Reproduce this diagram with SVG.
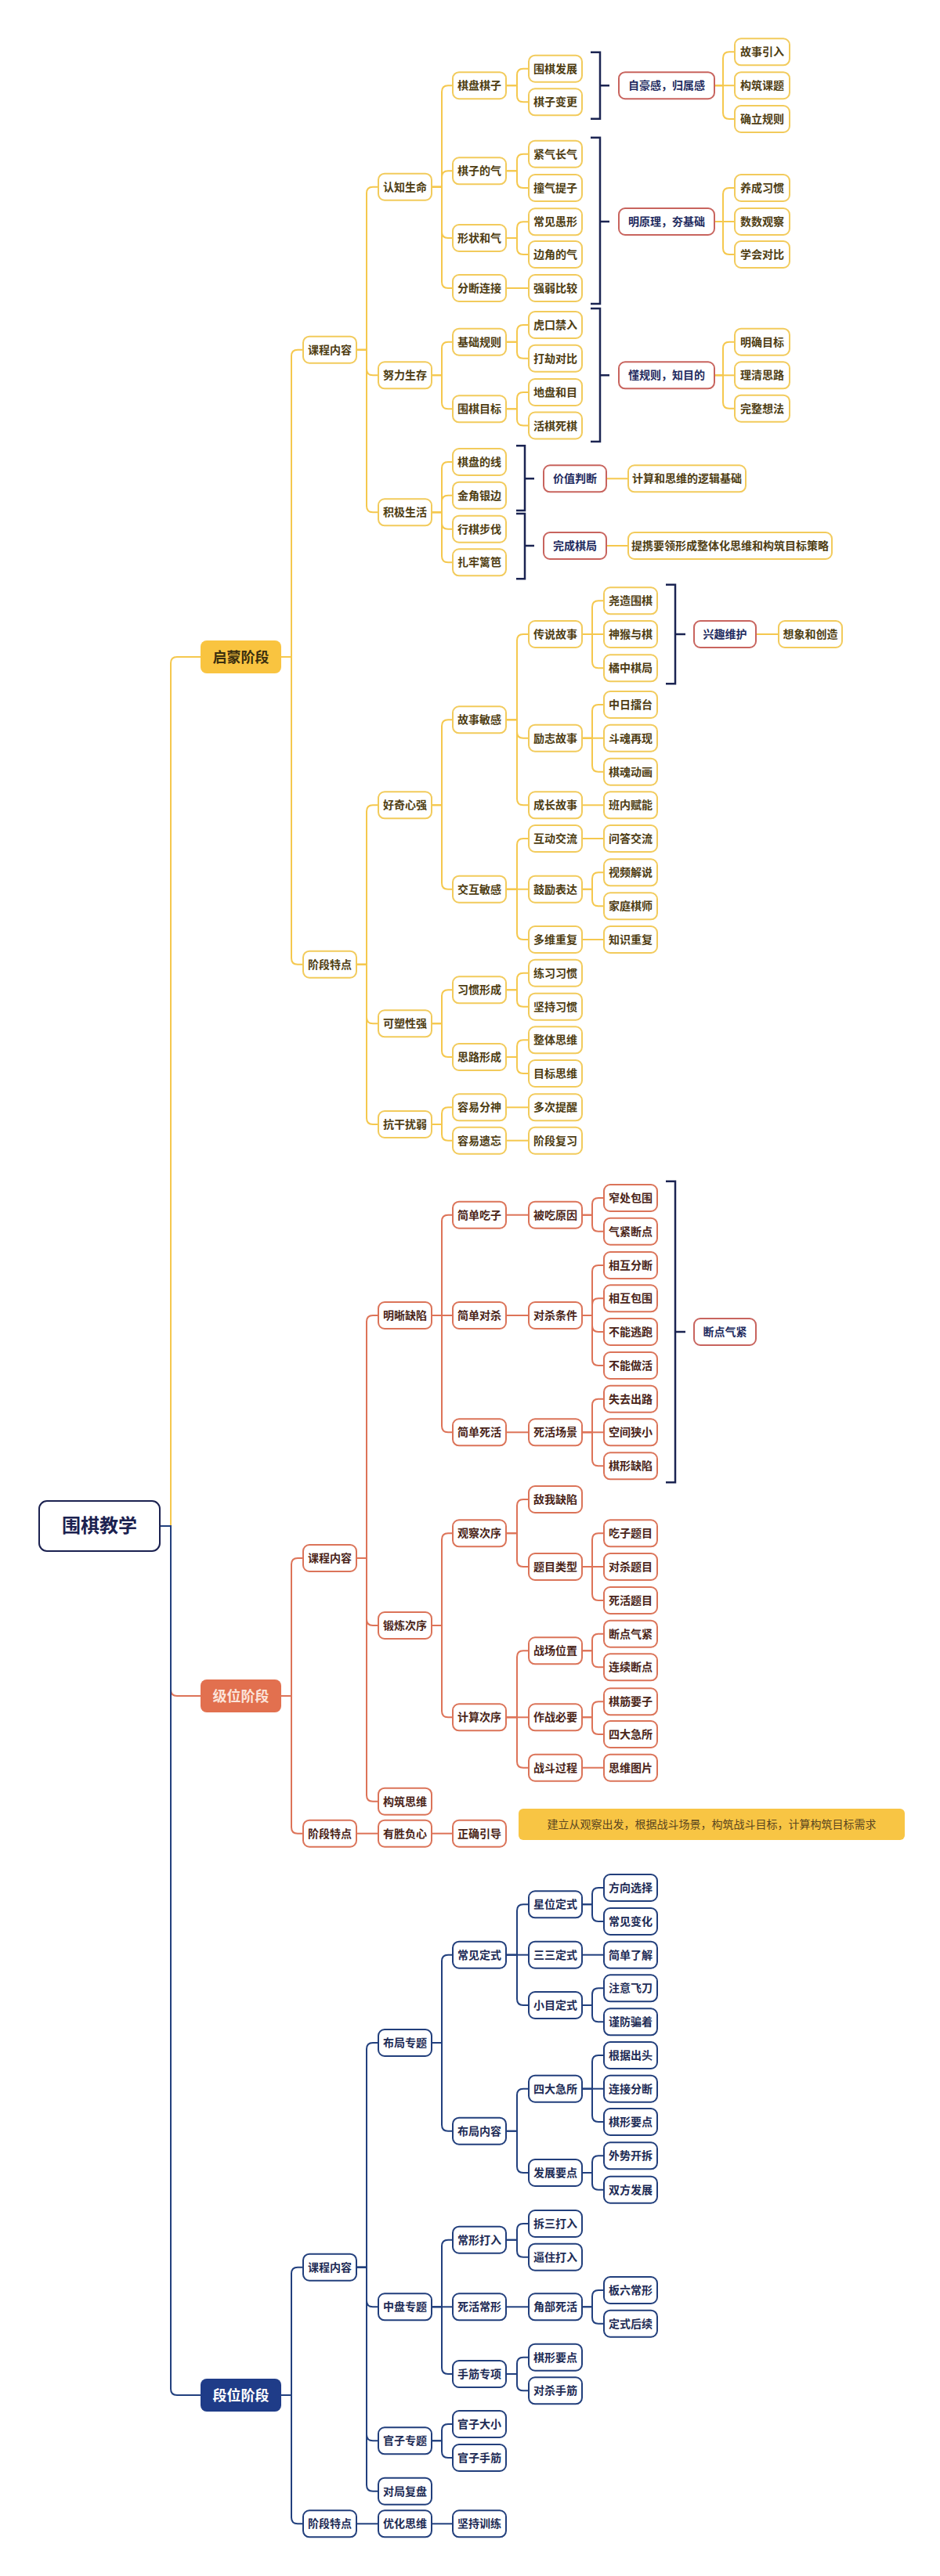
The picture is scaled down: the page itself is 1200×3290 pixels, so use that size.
<svg xmlns="http://www.w3.org/2000/svg" width="1200" height="3290" viewBox="0 0 1200 3290">
<style>
text{font-family:"Noto Sans CJK SC","Noto Sans",sans-serif;font-size:14px;font-weight:bold;text-anchor:middle}
rect{stroke-width:2}
.ny rect{fill:#fff;stroke:#F2CB5C}
.ny text{fill:#4E3D12}
.nc rect{fill:#fff;stroke:#DB7459}
.nc text{fill:#4A2418}
.nn rect{fill:#fff;stroke:#223F7C}
.nn text{fill:#1D2B55}
.sm rect{fill:#fff;stroke:#C8645E}
.sm text{fill:#1E2A5E}
path{fill:none;stroke-width:2}
.ly{stroke:#F5C84E}
.lc{stroke:#DD7358}
.ln{stroke:#22407E}
.br{stroke:#1B2452;stroke-width:2.5}
</style>
<rect x="0" y="0" width="1200" height="3290" fill="#fff" stroke="none"/>
<g id="connectors">
<g class="ly">
<path class="ly" d="M204 1949H218V847Q218 839 226 839H256"/>
<path class="ly" d="M359 839H372V454.7Q372 446.7 380 446.7H387"/>
<path class="ly" d="M359 839H372V1223.7Q372 1231.7 380 1231.7H387"/>
<path class="ly" d="M455 446.7H468V246.7Q468 238.7 476 238.7H483"/>
<path class="ly" d="M455 446.7H468V471.3Q468 479.3 476 479.3H483"/>
<path class="ly" d="M455 446.7H468V646.3Q468 654.3 476 654.3H483"/>
<path class="ly" d="M455 1231.7H468V1036.3Q468 1028.3 476 1028.3H483"/>
<path class="ly" d="M455 1231.7H468V1299.3Q468 1307.3 476 1307.3H483"/>
<path class="ly" d="M455 1231.7H468V1428Q468 1436 476 1436H483"/>
<path class="ly" d="M551 238.7H564V117.2Q564 109.2 572 109.2H578"/>
<path class="ly" d="M551 238.7H564V226.3Q564 218.3 572 218.3H578"/>
<path class="ly" d="M551 238.7H564V296Q564 304 572 304H578"/>
<path class="ly" d="M551 238.7H564V360Q564 368 572 368H578"/>
<path class="ly" d="M551 479.3H564V444.7Q564 436.7 572 436.7H578"/>
<path class="ly" d="M551 479.3H564V514.3Q564 522.3 572 522.3H578"/>
<path class="ly" d="M551 654.3H564V598Q564 590 572 590H578"/>
<path class="ly" d="M551 654.3H564V640.7Q564 632.7 572 632.7H578"/>
<path class="ly" d="M551 654.3H564V667.7Q564 675.7 572 675.7H578"/>
<path class="ly" d="M551 654.3H564V710.3Q564 718.3 572 718.3H578"/>
<path class="ly" d="M551 1028.3H564V927.3Q564 919.3 572 919.3H578"/>
<path class="ly" d="M551 1028.3H564V1127.7Q564 1135.7 572 1135.7H578"/>
<path class="ly" d="M551 1307.3H564V1272.3Q564 1264.3 572 1264.3H578"/>
<path class="ly" d="M551 1307.3H564V1342Q564 1350 572 1350H578"/>
<path class="ly" d="M551 1436H564V1422.3Q564 1414.3 572 1414.3H578"/>
<path class="ly" d="M551 1436H564V1448.7Q564 1456.7 572 1456.7H578"/>
<path class="ly" d="M646 109.2H660V95.7Q660 87.7 668 87.7H675"/>
<path class="ly" d="M646 109.2H660V122.3Q660 130.3 668 130.3H675"/>
<path class="ly" d="M646 218.3H660V204.7Q660 196.7 668 196.7H675"/>
<path class="ly" d="M646 218.3H660V232Q660 240 668 240H675"/>
<path class="ly" d="M646 304H660V291.3Q660 283.3 668 283.3H675"/>
<path class="ly" d="M646 304H660V317Q660 325 668 325H675"/>
<path class="ly" d="M646 368H675"/>
<path class="ly" d="M646 436.7H660V423Q660 415 668 415H675"/>
<path class="ly" d="M646 436.7H660V449.7Q660 457.7 668 457.7H675"/>
<path class="ly" d="M646 522.3H660V509Q660 501 668 501H675"/>
<path class="ly" d="M646 522.3H660V535.5Q660 543.5 668 543.5H675"/>
<path class="ly" d="M646 919.3H660V818Q660 810 668 810H675"/>
<path class="ly" d="M646 919.3H660V934.7Q660 942.7 668 942.7H675"/>
<path class="ly" d="M646 919.3H660V1020.3Q660 1028.3 668 1028.3H675"/>
<path class="ly" d="M646 1135.7H660V1079Q660 1071 668 1071H675"/>
<path class="ly" d="M646 1135.7H675"/>
<path class="ly" d="M646 1135.7H660V1192Q660 1200 668 1200H675"/>
<path class="ly" d="M646 1264.3H660V1250.7Q660 1242.7 668 1242.7H675"/>
<path class="ly" d="M646 1264.3H660V1277.7Q660 1285.7 668 1285.7H675"/>
<path class="ly" d="M646 1350H660V1336.3Q660 1328.3 668 1328.3H675"/>
<path class="ly" d="M646 1350H660V1363Q660 1371 668 1371H675"/>
<path class="ly" d="M646 1414.3H675"/>
<path class="ly" d="M646 1456.7H675"/>
<path class="ly" d="M743 810H756V775.3Q756 767.3 764 767.3H771"/>
<path class="ly" d="M743 810H771"/>
<path class="ly" d="M743 810H756V845.3Q756 853.3 764 853.3H771"/>
<path class="ly" d="M743 942.7H756V908Q756 900 764 900H771"/>
<path class="ly" d="M743 942.7H771"/>
<path class="ly" d="M743 942.7H756V977.7Q756 985.7 764 985.7H771"/>
<path class="ly" d="M743 1028.3H771"/>
<path class="ly" d="M743 1071H771"/>
<path class="ly" d="M743 1135.7H756V1122.3Q756 1114.3 764 1114.3H771"/>
<path class="ly" d="M743 1135.7H756V1149.3Q756 1157.3 764 1157.3H771"/>
<path class="ly" d="M743 1200H771"/>
<path class="ly" d="M912 109.2H923V74.3Q923 66.3 931 66.3H938"/>
<path class="ly" d="M912 109.2H938"/>
<path class="ly" d="M912 109.2H923V144Q923 152 931 152H938"/>
<path class="ly" d="M912 283H923V248Q923 240 931 240H938"/>
<path class="ly" d="M912 283H938"/>
<path class="ly" d="M912 283H923V317Q923 325 931 325H938"/>
<path class="ly" d="M912 479.3H923V444.7Q923 436.7 931 436.7H938"/>
<path class="ly" d="M912 479.3H938"/>
<path class="ly" d="M912 479.3H923V513.7Q923 521.7 931 521.7H938"/>
<path class="ly" d="M774 611.3H802"/>
<path class="ly" d="M774 697H802"/>
<path class="ly" d="M965 810H994"/>
</g>
<g class="lc">
<path class="lc" d="M204 1949H218V2158Q218 2166 226 2166H256"/>
<path class="lc" d="M359 2166H372V1998Q372 1990 380 1990H387"/>
<path class="lc" d="M359 2166H372V2333.7Q372 2341.7 380 2341.7H387"/>
<path class="lc" d="M455 1990H468V1688Q468 1680 476 1680H483"/>
<path class="lc" d="M455 1990H468V2068Q468 2076 476 2076H483"/>
<path class="lc" d="M455 1990H468V2292.7Q468 2300.7 476 2300.7H483"/>
<path class="lc" d="M455 2341.7H483"/>
<path class="lc" d="M551 1680H564V1559.7Q564 1551.7 572 1551.7H578"/>
<path class="lc" d="M551 1680H578"/>
<path class="lc" d="M551 1680H564V1821.3Q564 1829.3 572 1829.3H578"/>
<path class="lc" d="M551 2076H564V1966.3Q564 1958.3 572 1958.3H578"/>
<path class="lc" d="M551 2076H564V2185.3Q564 2193.3 572 2193.3H578"/>
<path class="lc" d="M551 2341.7H578"/>
<path class="lc" d="M646 1551.7H675"/>
<path class="lc" d="M646 1680H675"/>
<path class="lc" d="M646 1829.3H675"/>
<path class="lc" d="M646 1958.3H660V1923Q660 1915 668 1915H675"/>
<path class="lc" d="M646 1958.3H660V1993Q660 2001 668 2001H675"/>
<path class="lc" d="M646 2193.3H660V2116.3Q660 2108.3 668 2108.3H675"/>
<path class="lc" d="M646 2193.3H675"/>
<path class="lc" d="M646 2193.3H660V2249.7Q660 2257.7 668 2257.7H675"/>
<path class="lc" d="M743 1551.7H756V1538Q756 1530 764 1530H771"/>
<path class="lc" d="M743 1551.7H756V1564.7Q756 1572.7 764 1572.7H771"/>
<path class="lc" d="M743 1680H756V1624Q756 1616 764 1616H771"/>
<path class="lc" d="M743 1680H756V1666.3Q756 1658.3 764 1658.3H771"/>
<path class="lc" d="M743 1680H756V1693Q756 1701 764 1701H771"/>
<path class="lc" d="M743 1680H756V1736Q756 1744 764 1744H771"/>
<path class="lc" d="M743 1829.3H756V1794.7Q756 1786.7 764 1786.7H771"/>
<path class="lc" d="M743 1829.3H771"/>
<path class="lc" d="M743 1829.3H756V1864.3Q756 1872.3 764 1872.3H771"/>
<path class="lc" d="M743 2001H756V1966.3Q756 1958.3 764 1958.3H771"/>
<path class="lc" d="M743 2001H771"/>
<path class="lc" d="M743 2001H756V2036Q756 2044 764 2044H771"/>
<path class="lc" d="M743 2108.3H756V2094.7Q756 2086.7 764 2086.7H771"/>
<path class="lc" d="M743 2108.3H756V2121.3Q756 2129.3 764 2129.3H771"/>
<path class="lc" d="M743 2193.3H756V2181.3Q756 2173.3 764 2173.3H771"/>
<path class="lc" d="M743 2193.3H756V2207Q756 2215 764 2215H771"/>
<path class="lc" d="M743 2257.7H771"/>
</g>
<g class="ln">
<path class="ln" d="M204 1949H218V3051Q218 3059 226 3059H256"/>
<path class="ln" d="M359 3059H372V2903.7Q372 2895.7 380 2895.7H387"/>
<path class="ln" d="M359 3059H372V3215.3Q372 3223.3 380 3223.3H387"/>
<path class="ln" d="M455 2895.7H468V2617Q468 2609 476 2609H483"/>
<path class="ln" d="M455 2895.7H468V2938.3Q468 2946.3 476 2946.3H483"/>
<path class="ln" d="M455 2895.7H468V3109.3Q468 3117.3 476 3117.3H483"/>
<path class="ln" d="M455 2895.7H468V3173.7Q468 3181.7 476 3181.7H483"/>
<path class="ln" d="M455 3223.3H483"/>
<path class="ln" d="M551 2609H564V2504.7Q564 2496.7 572 2496.7H578"/>
<path class="ln" d="M551 2609H564V2713.7Q564 2721.7 572 2721.7H578"/>
<path class="ln" d="M551 2946.3H564V2868.7Q564 2860.7 572 2860.7H578"/>
<path class="ln" d="M551 2946.3H578"/>
<path class="ln" d="M551 2946.3H564V3024Q564 3032 572 3032H578"/>
<path class="ln" d="M551 3117.3H564V3104Q564 3096 572 3096H578"/>
<path class="ln" d="M551 3117.3H564V3131Q564 3139 572 3139H578"/>
<path class="ln" d="M551 3223.3H578"/>
<path class="ln" d="M646 2496.7H660V2440.3Q660 2432.3 668 2432.3H675"/>
<path class="ln" d="M646 2496.7H675"/>
<path class="ln" d="M646 2496.7H660V2553Q660 2561 668 2561H675"/>
<path class="ln" d="M646 2721.7H660V2675.7Q660 2667.7 668 2667.7H675"/>
<path class="ln" d="M646 2721.7H660V2767Q660 2775 668 2775H675"/>
<path class="ln" d="M646 2860.7H660V2848Q660 2840 668 2840H675"/>
<path class="ln" d="M646 2860.7H660V2874.7Q660 2882.7 668 2882.7H675"/>
<path class="ln" d="M646 2946.3H675"/>
<path class="ln" d="M646 3032H660V3018.7Q660 3010.7 668 3010.7H675"/>
<path class="ln" d="M646 3032H660V3045.3Q660 3053.3 668 3053.3H675"/>
<path class="ln" d="M743 2432.3H756V2419Q756 2411 764 2411H771"/>
<path class="ln" d="M743 2432.3H756V2446Q756 2454 764 2454H771"/>
<path class="ln" d="M743 2496.7H771"/>
<path class="ln" d="M743 2561H756V2547.3Q756 2539.3 764 2539.3H771"/>
<path class="ln" d="M743 2561H756V2574.3Q756 2582.3 764 2582.3H771"/>
<path class="ln" d="M743 2667.7H756V2633Q756 2625 764 2625H771"/>
<path class="ln" d="M743 2667.7H771"/>
<path class="ln" d="M743 2667.7H756V2702Q756 2710 764 2710H771"/>
<path class="ln" d="M743 2775H756V2761.3Q756 2753.3 764 2753.3H771"/>
<path class="ln" d="M743 2775H756V2788.7Q756 2796.7 764 2796.7H771"/>
<path class="ln" d="M743 2946.3H756V2933Q756 2925 764 2925H771"/>
<path class="ln" d="M743 2946.3H756V2959.7Q756 2967.7 764 2967.7H771"/>
</g>
<g class="br">
<path class="br" d="M754 66.7H766V151.7H754M766 109.2H778"/>
<path class="br" d="M754 175.7H766V388H754M766 283H778"/>
<path class="br" d="M754 394H766V564H754M766 479.3H778"/>
<path class="br" d="M659 569.3H670V652H659M670 611.3H682"/>
<path class="br" d="M659 656H670V739.3H659M670 697H682"/>
<path class="br" d="M850 746.7H862V873.3H850M862 810H875"/>
<path class="br" d="M850 1508.7H862V1893.3H850M862 1701H875"/>
</g>
</g>

<g id="root"><rect x="50" y="1917" width="154" height="64" rx="10" fill="#fff" stroke="#1B2150" stroke-width="3"/><text x="127" y="1957" style="font-size:24px;fill:#1B2150">围棋教学</text></g>

<g id="stage-qimeng"><rect x="256" y="818" width="103" height="42" rx="8" fill="#F9C440" stroke="none"/><text x="307.5" y="845.5" style="font-size:18px;fill:#3B2F0F">启蒙阶段</text></g>
<g id="stage-jiwei"><rect x="256" y="2145" width="103" height="42" rx="8" fill="#E2704F" stroke="none"/><text x="307.5" y="2172.5" style="font-size:18px;fill:#FBE3D9">级位阶段</text></g>
<g id="stage-duanwei"><rect x="256" y="3038" width="103" height="42" rx="8" fill="#1F3C88" stroke="none"/><text x="307.5" y="3065.5" style="font-size:18px;fill:#fff">段位阶段</text></g>

<g id="y-l2a" class="ny"><rect x="387" y="429.7" width="68" height="34" rx="8"/><text x="421" y="451.7">课程内容</text></g>
<g id="y-l2b" class="ny"><rect x="387" y="1214.7" width="68" height="34" rx="8"/><text x="421" y="1236.7">阶段特点</text></g>
<g id="y-l3a" class="ny"><rect x="483" y="221.7" width="68" height="34" rx="8"/><text x="517" y="243.7">认知生命</text></g>
<g id="y-l3b" class="ny"><rect x="483" y="462.3" width="68" height="34" rx="8"/><text x="517" y="484.3">努力生存</text></g>
<g id="y-l3c" class="ny"><rect x="483" y="637.3" width="68" height="34" rx="8"/><text x="517" y="659.3">积极生活</text></g>
<g id="y-l3d" class="ny"><rect x="483" y="1011.3" width="68" height="34" rx="8"/><text x="517" y="1033.3">好奇心强</text></g>
<g id="y-l3e" class="ny"><rect x="483" y="1290.3" width="68" height="34" rx="8"/><text x="517" y="1312.3">可塑性强</text></g>
<g id="y-l3f" class="ny"><rect x="483" y="1419" width="68" height="34" rx="8"/><text x="517" y="1441">抗干扰弱</text></g>
<g id="y-l4a" class="ny"><rect x="578" y="92.2" width="68" height="34" rx="8"/><text x="612" y="114.2">棋盘棋子</text></g>
<g id="y-l4b" class="ny"><rect x="578" y="201.3" width="68" height="34" rx="8"/><text x="612" y="223.3">棋子的气</text></g>
<g id="y-l4c" class="ny"><rect x="578" y="287" width="68" height="34" rx="8"/><text x="612" y="309">形状和气</text></g>
<g id="y-l4d" class="ny"><rect x="578" y="351" width="68" height="34" rx="8"/><text x="612" y="373">分断连接</text></g>
<g id="y-l4e" class="ny"><rect x="578" y="419.7" width="68" height="34" rx="8"/><text x="612" y="441.7">基础规则</text></g>
<g id="y-l4f" class="ny"><rect x="578" y="505.3" width="68" height="34" rx="8"/><text x="612" y="527.3">围棋目标</text></g>
<g id="y-l4g" class="ny"><rect x="578" y="573" width="68" height="34" rx="8"/><text x="612" y="595">棋盘的线</text></g>
<g id="y-l4h" class="ny"><rect x="578" y="615.7" width="68" height="34" rx="8"/><text x="612" y="637.7">金角银边</text></g>
<g id="y-l4i" class="ny"><rect x="578" y="658.7" width="68" height="34" rx="8"/><text x="612" y="680.7">行棋步伐</text></g>
<g id="y-l4j" class="ny"><rect x="578" y="701.3" width="68" height="34" rx="8"/><text x="612" y="723.3">扎牢篱笆</text></g>
<g id="y-l4k" class="ny"><rect x="578" y="902.3" width="68" height="34" rx="8"/><text x="612" y="924.3">故事敏感</text></g>
<g id="y-l4l" class="ny"><rect x="578" y="1118.7" width="68" height="34" rx="8"/><text x="612" y="1140.7">交互敏感</text></g>
<g id="y-l4m" class="ny"><rect x="578" y="1247.3" width="68" height="34" rx="8"/><text x="612" y="1269.3">习惯形成</text></g>
<g id="y-l4n" class="ny"><rect x="578" y="1333" width="68" height="34" rx="8"/><text x="612" y="1355">思路形成</text></g>
<g id="y-l4o" class="ny"><rect x="578" y="1397.3" width="68" height="34" rx="8"/><text x="612" y="1419.3">容易分神</text></g>
<g id="y-l4p" class="ny"><rect x="578" y="1439.7" width="68" height="34" rx="8"/><text x="612" y="1461.7">容易遗忘</text></g>
<g id="y-l5a" class="ny"><rect x="675" y="70.7" width="68" height="34" rx="8"/><text x="709" y="92.7">围棋发展</text></g>
<g id="y-l5b" class="ny"><rect x="675" y="113.3" width="68" height="34" rx="8"/><text x="709" y="135.3">棋子变更</text></g>
<g id="y-l5c" class="ny"><rect x="675" y="179.7" width="68" height="34" rx="8"/><text x="709" y="201.7">紧气长气</text></g>
<g id="y-l5d" class="ny"><rect x="675" y="223" width="68" height="34" rx="8"/><text x="709" y="245">撞气提子</text></g>
<g id="y-l5e" class="ny"><rect x="675" y="266.3" width="68" height="34" rx="8"/><text x="709" y="288.3">常见愚形</text></g>
<g id="y-l5f" class="ny"><rect x="675" y="308" width="68" height="34" rx="8"/><text x="709" y="330">边角的气</text></g>
<g id="y-l5g" class="ny"><rect x="675" y="351" width="68" height="34" rx="8"/><text x="709" y="373">强弱比较</text></g>
<g id="y-l5h" class="ny"><rect x="675" y="398" width="68" height="34" rx="8"/><text x="709" y="420">虎口禁入</text></g>
<g id="y-l5i" class="ny"><rect x="675" y="440.7" width="68" height="34" rx="8"/><text x="709" y="462.7">打劫对比</text></g>
<g id="y-l5j" class="ny"><rect x="675" y="484" width="68" height="34" rx="8"/><text x="709" y="506">地盘和目</text></g>
<g id="y-l5k" class="ny"><rect x="675" y="526.5" width="68" height="34" rx="8"/><text x="709" y="548.5">活棋死棋</text></g>
<g id="y-l5l" class="ny"><rect x="675" y="793" width="68" height="34" rx="8"/><text x="709" y="815">传说故事</text></g>
<g id="y-l5m" class="ny"><rect x="675" y="925.7" width="68" height="34" rx="8"/><text x="709" y="947.7">励志故事</text></g>
<g id="y-l5n" class="ny"><rect x="675" y="1011.3" width="68" height="34" rx="8"/><text x="709" y="1033.3">成长故事</text></g>
<g id="y-l5o" class="ny"><rect x="675" y="1054" width="68" height="34" rx="8"/><text x="709" y="1076">互动交流</text></g>
<g id="y-l5p" class="ny"><rect x="675" y="1118.7" width="68" height="34" rx="8"/><text x="709" y="1140.7">鼓励表达</text></g>
<g id="y-l5q" class="ny"><rect x="675" y="1183" width="68" height="34" rx="8"/><text x="709" y="1205">多维重复</text></g>
<g id="y-l5r" class="ny"><rect x="675" y="1225.7" width="68" height="34" rx="8"/><text x="709" y="1247.7">练习习惯</text></g>
<g id="y-l5s" class="ny"><rect x="675" y="1268.7" width="68" height="34" rx="8"/><text x="709" y="1290.7">坚持习惯</text></g>
<g id="y-l5t" class="ny"><rect x="675" y="1311.3" width="68" height="34" rx="8"/><text x="709" y="1333.3">整体思维</text></g>
<g id="y-l5u" class="ny"><rect x="675" y="1354" width="68" height="34" rx="8"/><text x="709" y="1376">目标思维</text></g>
<g id="y-l5v" class="ny"><rect x="675" y="1397.3" width="68" height="34" rx="8"/><text x="709" y="1419.3">多次提醒</text></g>
<g id="y-l5w" class="ny"><rect x="675" y="1439.7" width="68" height="34" rx="8"/><text x="709" y="1461.7">阶段复习</text></g>
<g id="y-l6a" class="ny"><rect x="771" y="750.3" width="68" height="34" rx="8"/><text x="805" y="772.3">尧造围棋</text></g>
<g id="y-l6b" class="ny"><rect x="771" y="793" width="68" height="34" rx="8"/><text x="805" y="815">神猴与棋</text></g>
<g id="y-l6c" class="ny"><rect x="771" y="836.3" width="68" height="34" rx="8"/><text x="805" y="858.3">橘中棋局</text></g>
<g id="y-l6d" class="ny"><rect x="771" y="883" width="68" height="34" rx="8"/><text x="805" y="905">中日擂台</text></g>
<g id="y-l6e" class="ny"><rect x="771" y="925.7" width="68" height="34" rx="8"/><text x="805" y="947.7">斗魂再现</text></g>
<g id="y-l6f" class="ny"><rect x="771" y="968.7" width="68" height="34" rx="8"/><text x="805" y="990.7">棋魂动画</text></g>
<g id="y-l6g" class="ny"><rect x="771" y="1011.3" width="68" height="34" rx="8"/><text x="805" y="1033.3">班内赋能</text></g>
<g id="y-l6h" class="ny"><rect x="771" y="1054" width="68" height="34" rx="8"/><text x="805" y="1076">问答交流</text></g>
<g id="y-l6i" class="ny"><rect x="771" y="1097.3" width="68" height="34" rx="8"/><text x="805" y="1119.3">视频解说</text></g>
<g id="y-l6j" class="ny"><rect x="771" y="1140.3" width="68" height="34" rx="8"/><text x="805" y="1162.3">家庭棋师</text></g>
<g id="y-l6k" class="ny"><rect x="771" y="1183" width="68" height="34" rx="8"/><text x="805" y="1205">知识重复</text></g>
<g id="y-s1a" class="ny"><rect x="938" y="49.3" width="70" height="34" rx="8"/><text x="973" y="71.3">故事引入</text></g>
<g id="y-s1b" class="ny"><rect x="938" y="92.2" width="70" height="34" rx="8"/><text x="973" y="114.2">构筑课题</text></g>
<g id="y-s1c" class="ny"><rect x="938" y="135" width="70" height="34" rx="8"/><text x="973" y="157">确立规则</text></g>
<g id="y-s2a" class="ny"><rect x="938" y="223" width="70" height="34" rx="8"/><text x="973" y="245">养成习惯</text></g>
<g id="y-s2b" class="ny"><rect x="938" y="266" width="70" height="34" rx="8"/><text x="973" y="288">数数观察</text></g>
<g id="y-s2c" class="ny"><rect x="938" y="308" width="70" height="34" rx="8"/><text x="973" y="330">学会对比</text></g>
<g id="y-s3a" class="ny"><rect x="938" y="419.7" width="70" height="34" rx="8"/><text x="973" y="441.7">明确目标</text></g>
<g id="y-s3b" class="ny"><rect x="938" y="462.3" width="70" height="34" rx="8"/><text x="973" y="484.3">理清思路</text></g>
<g id="y-s3c" class="ny"><rect x="938" y="504.7" width="70" height="34" rx="8"/><text x="973" y="526.7">完整想法</text></g>
<g id="y-s4a" class="ny"><rect x="802" y="594.3" width="150" height="34" rx="8"/><text x="877" y="616.3">计算和思维的逻辑基础</text></g>
<g id="y-s5a" class="ny"><rect x="802" y="680" width="260" height="34" rx="8"/><text x="932" y="702">提携要领形成整体化思维和构筑目标策略</text></g>
<g id="y-s6a" class="ny"><rect x="994" y="793" width="81" height="34" rx="8"/><text x="1034.5" y="815">想象和创造</text></g>

<g id="sum-1" class="sm"><rect x="790" y="92.2" width="122" height="34" rx="8"/><text x="851" y="114.2">自豪感，归属感</text></g>
<g id="sum-2" class="sm"><rect x="790" y="266" width="122" height="34" rx="8"/><text x="851" y="288">明原理，夯基础</text></g>
<g id="sum-3" class="sm"><rect x="790" y="462.3" width="122" height="34" rx="8"/><text x="851" y="484.3">懂规则，知目的</text></g>
<g id="sum-4" class="sm"><rect x="694" y="594.3" width="80" height="34" rx="8"/><text x="734" y="616.3">价值判断</text></g>
<g id="sum-5" class="sm"><rect x="694" y="680" width="80" height="34" rx="8"/><text x="734" y="702">完成棋局</text></g>
<g id="sum-6" class="sm"><rect x="886" y="793" width="79" height="34" rx="8"/><text x="925.5" y="815">兴趣维护</text></g>
<g id="sum-7" class="sm"><rect x="886" y="1684" width="79" height="34" rx="8"/><text x="925.5" y="1706">断点气紧</text></g>

<g id="c-l2a" class="nc"><rect x="387" y="1973" width="68" height="34" rx="8"/><text x="421" y="1995">课程内容</text></g>
<g id="c-l2b" class="nc"><rect x="387" y="2324.7" width="68" height="34" rx="8"/><text x="421" y="2346.7">阶段特点</text></g>
<g id="c-l3a" class="nc"><rect x="483" y="1663" width="68" height="34" rx="8"/><text x="517" y="1685">明晰缺陷</text></g>
<g id="c-l3b" class="nc"><rect x="483" y="2059" width="68" height="34" rx="8"/><text x="517" y="2081">锻炼次序</text></g>
<g id="c-l3c" class="nc"><rect x="483" y="2283.7" width="68" height="34" rx="8"/><text x="517" y="2305.7">构筑思维</text></g>
<g id="c-l3d" class="nc"><rect x="483" y="2324.7" width="68" height="34" rx="8"/><text x="517" y="2346.7">有胜负心</text></g>
<g id="c-l4a" class="nc"><rect x="578" y="1534.7" width="68" height="34" rx="8"/><text x="612" y="1556.7">简单吃子</text></g>
<g id="c-l4b" class="nc"><rect x="578" y="1663" width="68" height="34" rx="8"/><text x="612" y="1685">简单对杀</text></g>
<g id="c-l4c" class="nc"><rect x="578" y="1812.3" width="68" height="34" rx="8"/><text x="612" y="1834.3">简单死活</text></g>
<g id="c-l4d" class="nc"><rect x="578" y="1941.3" width="68" height="34" rx="8"/><text x="612" y="1963.3">观察次序</text></g>
<g id="c-l4e" class="nc"><rect x="578" y="2176.3" width="68" height="34" rx="8"/><text x="612" y="2198.3">计算次序</text></g>
<g id="c-l4f" class="nc"><rect x="578" y="2324.7" width="68" height="34" rx="8"/><text x="612" y="2346.7">正确引导</text></g>
<g id="c-l5a" class="nc"><rect x="675" y="1534.7" width="68" height="34" rx="8"/><text x="709" y="1556.7">被吃原因</text></g>
<g id="c-l5b" class="nc"><rect x="675" y="1663" width="68" height="34" rx="8"/><text x="709" y="1685">对杀条件</text></g>
<g id="c-l5c" class="nc"><rect x="675" y="1812.3" width="68" height="34" rx="8"/><text x="709" y="1834.3">死活场景</text></g>
<g id="c-l5d" class="nc"><rect x="675" y="1898" width="68" height="34" rx="8"/><text x="709" y="1920">敌我缺陷</text></g>
<g id="c-l5e" class="nc"><rect x="675" y="1984" width="68" height="34" rx="8"/><text x="709" y="2006">题目类型</text></g>
<g id="c-l5f" class="nc"><rect x="675" y="2091.3" width="68" height="34" rx="8"/><text x="709" y="2113.3">战场位置</text></g>
<g id="c-l5g" class="nc"><rect x="675" y="2176.3" width="68" height="34" rx="8"/><text x="709" y="2198.3">作战必要</text></g>
<g id="c-l5h" class="nc"><rect x="675" y="2240.7" width="68" height="34" rx="8"/><text x="709" y="2262.7">战斗过程</text></g>
<g id="c-l6a" class="nc"><rect x="771" y="1513" width="68" height="34" rx="8"/><text x="805" y="1535">窄处包围</text></g>
<g id="c-l6b" class="nc"><rect x="771" y="1555.7" width="68" height="34" rx="8"/><text x="805" y="1577.7">气紧断点</text></g>
<g id="c-l6c" class="nc"><rect x="771" y="1599" width="68" height="34" rx="8"/><text x="805" y="1621">相互分断</text></g>
<g id="c-l6d" class="nc"><rect x="771" y="1641.3" width="68" height="34" rx="8"/><text x="805" y="1663.3">相互包围</text></g>
<g id="c-l6e" class="nc"><rect x="771" y="1684" width="68" height="34" rx="8"/><text x="805" y="1706">不能逃跑</text></g>
<g id="c-l6f" class="nc"><rect x="771" y="1727" width="68" height="34" rx="8"/><text x="805" y="1749">不能做活</text></g>
<g id="c-l6g" class="nc"><rect x="771" y="1769.7" width="68" height="34" rx="8"/><text x="805" y="1791.7">失去出路</text></g>
<g id="c-l6h" class="nc"><rect x="771" y="1812.3" width="68" height="34" rx="8"/><text x="805" y="1834.3">空间狭小</text></g>
<g id="c-l6i" class="nc"><rect x="771" y="1855.3" width="68" height="34" rx="8"/><text x="805" y="1877.3">棋形缺陷</text></g>
<g id="c-l6j" class="nc"><rect x="771" y="1941.3" width="68" height="34" rx="8"/><text x="805" y="1963.3">吃子题目</text></g>
<g id="c-l6k" class="nc"><rect x="771" y="1984" width="68" height="34" rx="8"/><text x="805" y="2006">对杀题目</text></g>
<g id="c-l6l" class="nc"><rect x="771" y="2027" width="68" height="34" rx="8"/><text x="805" y="2049">死活题目</text></g>
<g id="c-l6m" class="nc"><rect x="771" y="2069.7" width="68" height="34" rx="8"/><text x="805" y="2091.7">断点气紧</text></g>
<g id="c-l6n" class="nc"><rect x="771" y="2112.3" width="68" height="34" rx="8"/><text x="805" y="2134.3">连续断点</text></g>
<g id="c-l6o" class="nc"><rect x="771" y="2156.3" width="68" height="34" rx="8"/><text x="805" y="2178.3">棋筋要子</text></g>
<g id="c-l6p" class="nc"><rect x="771" y="2198" width="68" height="34" rx="8"/><text x="805" y="2220">四大急所</text></g>
<g id="c-l6q" class="nc"><rect x="771" y="2240.7" width="68" height="34" rx="8"/><text x="805" y="2262.7">思维图片</text></g>
<g id="note"><rect x="662" y="2310" width="493" height="40" rx="6" fill="#F8C544" stroke="none"/><text x="908.5" y="2335" style="font-weight:normal;fill:#5A4520">建立从观察出发，根据战斗场景，构筑战斗目标，计算构筑目标需求</text></g>

<g id="n-l2a" class="nn"><rect x="387" y="2878.7" width="68" height="34" rx="8"/><text x="421" y="2900.7">课程内容</text></g>
<g id="n-l2b" class="nn"><rect x="387" y="3206.3" width="68" height="34" rx="8"/><text x="421" y="3228.3">阶段特点</text></g>
<g id="n-l3a" class="nn"><rect x="483" y="2592" width="68" height="34" rx="8"/><text x="517" y="2614">布局专题</text></g>
<g id="n-l3b" class="nn"><rect x="483" y="2929.3" width="68" height="34" rx="8"/><text x="517" y="2951.3">中盘专题</text></g>
<g id="n-l3c" class="nn"><rect x="483" y="3100.3" width="68" height="34" rx="8"/><text x="517" y="3122.3">官子专题</text></g>
<g id="n-l3d" class="nn"><rect x="483" y="3164.7" width="68" height="34" rx="8"/><text x="517" y="3186.7">对局复盘</text></g>
<g id="n-l3e" class="nn"><rect x="483" y="3206.3" width="68" height="34" rx="8"/><text x="517" y="3228.3">优化思维</text></g>
<g id="n-l4a" class="nn"><rect x="578" y="2479.7" width="68" height="34" rx="8"/><text x="612" y="2501.7">常见定式</text></g>
<g id="n-l4b" class="nn"><rect x="578" y="2704.7" width="68" height="34" rx="8"/><text x="612" y="2726.7">布局内容</text></g>
<g id="n-l4c" class="nn"><rect x="578" y="2843.7" width="68" height="34" rx="8"/><text x="612" y="2865.7">常形打入</text></g>
<g id="n-l4d" class="nn"><rect x="578" y="2929.3" width="68" height="34" rx="8"/><text x="612" y="2951.3">死活常形</text></g>
<g id="n-l4e" class="nn"><rect x="578" y="3015" width="68" height="34" rx="8"/><text x="612" y="3037">手筋专项</text></g>
<g id="n-l4f" class="nn"><rect x="578" y="3079" width="68" height="34" rx="8"/><text x="612" y="3101">官子大小</text></g>
<g id="n-l4g" class="nn"><rect x="578" y="3122" width="68" height="34" rx="8"/><text x="612" y="3144">官子手筋</text></g>
<g id="n-l4h" class="nn"><rect x="578" y="3206.3" width="68" height="34" rx="8"/><text x="612" y="3228.3">坚持训练</text></g>
<g id="n-l5a" class="nn"><rect x="675" y="2415.3" width="68" height="34" rx="8"/><text x="709" y="2437.3">星位定式</text></g>
<g id="n-l5b" class="nn"><rect x="675" y="2479.7" width="68" height="34" rx="8"/><text x="709" y="2501.7">三三定式</text></g>
<g id="n-l5c" class="nn"><rect x="675" y="2544" width="68" height="34" rx="8"/><text x="709" y="2566">小目定式</text></g>
<g id="n-l5d" class="nn"><rect x="675" y="2650.7" width="68" height="34" rx="8"/><text x="709" y="2672.7">四大急所</text></g>
<g id="n-l5e" class="nn"><rect x="675" y="2758" width="68" height="34" rx="8"/><text x="709" y="2780">发展要点</text></g>
<g id="n-l5f" class="nn"><rect x="675" y="2823" width="68" height="34" rx="8"/><text x="709" y="2845">拆三打入</text></g>
<g id="n-l5g" class="nn"><rect x="675" y="2865.7" width="68" height="34" rx="8"/><text x="709" y="2887.7">逼住打入</text></g>
<g id="n-l5h" class="nn"><rect x="675" y="2929.3" width="68" height="34" rx="8"/><text x="709" y="2951.3">角部死活</text></g>
<g id="n-l5i" class="nn"><rect x="675" y="2993.7" width="68" height="34" rx="8"/><text x="709" y="3015.7">棋形要点</text></g>
<g id="n-l5j" class="nn"><rect x="675" y="3036.3" width="68" height="34" rx="8"/><text x="709" y="3058.3">对杀手筋</text></g>
<g id="n-l6a" class="nn"><rect x="771" y="2394" width="68" height="34" rx="8"/><text x="805" y="2416">方向选择</text></g>
<g id="n-l6b" class="nn"><rect x="771" y="2437" width="68" height="34" rx="8"/><text x="805" y="2459">常见变化</text></g>
<g id="n-l6c" class="nn"><rect x="771" y="2479.7" width="68" height="34" rx="8"/><text x="805" y="2501.7">简单了解</text></g>
<g id="n-l6d" class="nn"><rect x="771" y="2522.3" width="68" height="34" rx="8"/><text x="805" y="2544.3">注意飞刀</text></g>
<g id="n-l6e" class="nn"><rect x="771" y="2565.3" width="68" height="34" rx="8"/><text x="805" y="2587.3">谨防骗着</text></g>
<g id="n-l6f" class="nn"><rect x="771" y="2608" width="68" height="34" rx="8"/><text x="805" y="2630">根据出头</text></g>
<g id="n-l6g" class="nn"><rect x="771" y="2650.7" width="68" height="34" rx="8"/><text x="805" y="2672.7">连接分断</text></g>
<g id="n-l6h" class="nn"><rect x="771" y="2693" width="68" height="34" rx="8"/><text x="805" y="2715">棋形要点</text></g>
<g id="n-l6i" class="nn"><rect x="771" y="2736.3" width="68" height="34" rx="8"/><text x="805" y="2758.3">外势开拆</text></g>
<g id="n-l6j" class="nn"><rect x="771" y="2779.7" width="68" height="34" rx="8"/><text x="805" y="2801.7">双方发展</text></g>
<g id="n-l6k" class="nn"><rect x="771" y="2908" width="68" height="34" rx="8"/><text x="805" y="2930">板六常形</text></g>
<g id="n-l6l" class="nn"><rect x="771" y="2950.7" width="68" height="34" rx="8"/><text x="805" y="2972.7">定式后续</text></g>
</svg>
